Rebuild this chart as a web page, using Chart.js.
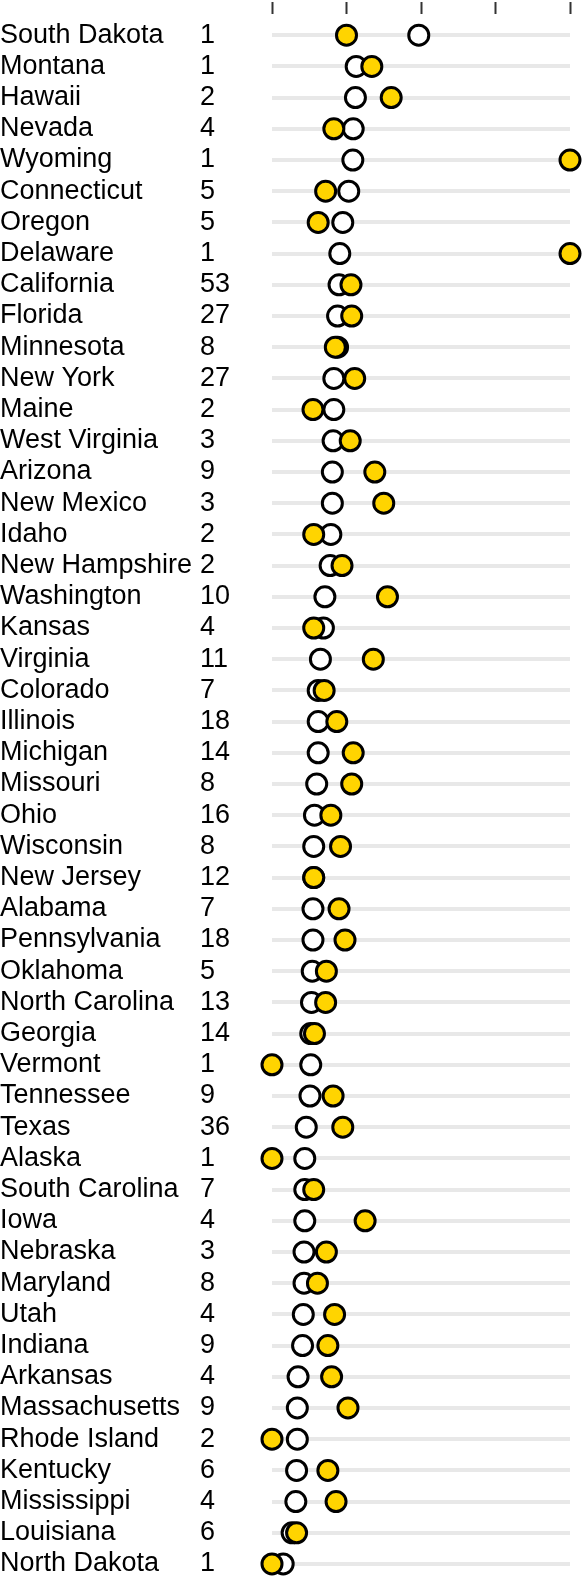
<!DOCTYPE html>
<html>
<head>
<meta charset="utf-8">
<script src="https://cdn.jsdelivr.net/npm/chart.js@4"></script>
<style>
  body { margin: 0; background: #fff; }
  #wrap { width: 582px; height: 1576px; position: relative; }
</style>
</head>
<body>
<div id="wrap"><canvas id="myChart"></canvas></div>
<script>
// states, top to bottom
const states = ["South Dakota","Montana","Hawaii","Nevada","Wyoming","Connecticut","Oregon","Delaware",
  "California","Florida","Minnesota","New York","Maine","West Virginia","Arizona","New Mexico","Idaho",
  "New Hampshire","Washington","Kansas","Virginia","Colorado","Illinois","Michigan","Missouri","Ohio",
  "Wisconsin","New Jersey","Alabama","Pennsylvania","Oklahoma","North Carolina","Georgia","Vermont",
  "Tennessee","Texas","Alaska","South Carolina","Iowa","Nebraska","Maryland","Utah","Indiana","Arkansas",
  "Massachusetts","Rhode Island","Kentucky","Mississippi","Louisiana","North Dakota"];
const seats = [1,1,2,4,1,5,5,1,53,27,8,27,2,3,9,3,2,2,10,4,11,7,18,14,8,16,8,12,7,18,5,13,14,1,9,36,1,7,4,3,8,4,9,4,9,2,6,4,6,1];

// white (open) circles
const whiteVals = [1.97,1.13,1.12,1.09,1.085,1.03,0.95,0.91,0.90,0.88,0.88,0.83,0.83,0.82,0.81,0.81,0.79,0.78,0.71,0.69,
  0.65,0.62,0.62,0.62,0.60,0.57,0.56,0.56,0.55,0.55,0.54,0.53,0.52,0.52,0.51,0.46,0.44,0.44,0.44,0.43,
  0.43,0.42,0.41,0.35,0.34,0.34,0.33,0.32,0.27,0.15];
// yellow circles
const yellowVals = [1.00,1.34,1.60,0.83,4.0,0.72,0.62,4.0,1.06,1.07,0.85,1.11,0.55,1.05,1.38,1.50,0.56,0.94,1.55,0.56,
  1.36,0.70,0.87,1.09,1.07,0.79,0.92,0.56,0.90,0.98,0.73,0.72,0.57,0.0,0.82,0.95,0.0,0.56,1.25,0.73,
  0.61,0.84,0.75,0.80,1.02,0.0,0.75,0.86,0.33,0.0];
const xTicks = [0,1,2,3,4];

const FONT = { family: "'Liberation Sans', Arial, sans-serif", size: 27, lineHeight: 1 };

function rowTicks(scale) {
  scale.ticks = states.map((s, i) => ({ value: i }));
}

const ctx = document.getElementById('myChart');
new Chart(ctx, {
  type: 'scatter',
  data: {
    datasets: [
      {
        // yellow on top
        data: states.map((s, i) => ({ x: yellowVals[i], y: i })),
        backgroundColor: '#ffd400',
        borderColor: '#000000',
        borderWidth: 3,
        pointRadius: 10,
        pointHoverRadius: 10,
        order: 1,
        clip: false
      },
      {
        data: states.map((s, i) => ({ x: whiteVals[i], y: i })),
        backgroundColor: '#ffffff',
        borderColor: '#000000',
        borderWidth: 3,
        pointRadius: 10,
        pointHoverRadius: 10,
        order: 2,
        clip: false
      }
    ]
  },
  options: {
    responsive: true,
    maintainAspectRatio: false,
    animation: false,
    layout: { autoPadding: false, padding: { right: 12 } },
    plugins: { legend: { display: false }, tooltip: { enabled: false } },
    scales: {
      x: {
        type: 'linear',
        position: 'top',
        min: 0,
        max: 4,
        afterBuildTicks: (s) => { s.ticks = xTicks.map(v => ({ value: v })); },
        afterFit: (s) => { s.height = 14; },
        ticks: { display: false },
        border: { display: false },
        grid: { drawOnChartArea: false, drawTicks: true, tickLength: 12, tickColor: '#333', tickWidth: 2 }
      },
      y: {
        type: 'linear',
        position: 'left',
        reverse: true,
        min: -0.68,
        max: 49.385,
        weight: 2,
        afterBuildTicks: rowTicks,
        afterFit: (s) => { s.width = 200; s.paddingTop = 0; s.paddingBottom = 0; },
        border: { display: false },
        grid: { color: '#e8e8e8', lineWidth: 4, drawTicks: false },
        ticks: {
          autoSkip: false,
          crossAlign: 'far',
          padding: 0,
          color: '#000',
          font: FONT,
          callback: (v) => states[v]
        }
      },
      y2: {
        type: 'linear',
        position: 'left',
        reverse: true,
        min: -0.68,
        max: 49.385,
        weight: 1,
        afterBuildTicks: rowTicks,
        afterFit: (s) => { s.width = 72; s.paddingTop = 0; s.paddingBottom = 0; },
        border: { display: false },
        grid: { display: false },
        ticks: {
          autoSkip: false,
          crossAlign: 'far',
          padding: 0,
          color: '#000',
          font: FONT,
          callback: (v) => String(seats[v])
        }
      }
    }
  }
});
</script>
</body>
</html>
